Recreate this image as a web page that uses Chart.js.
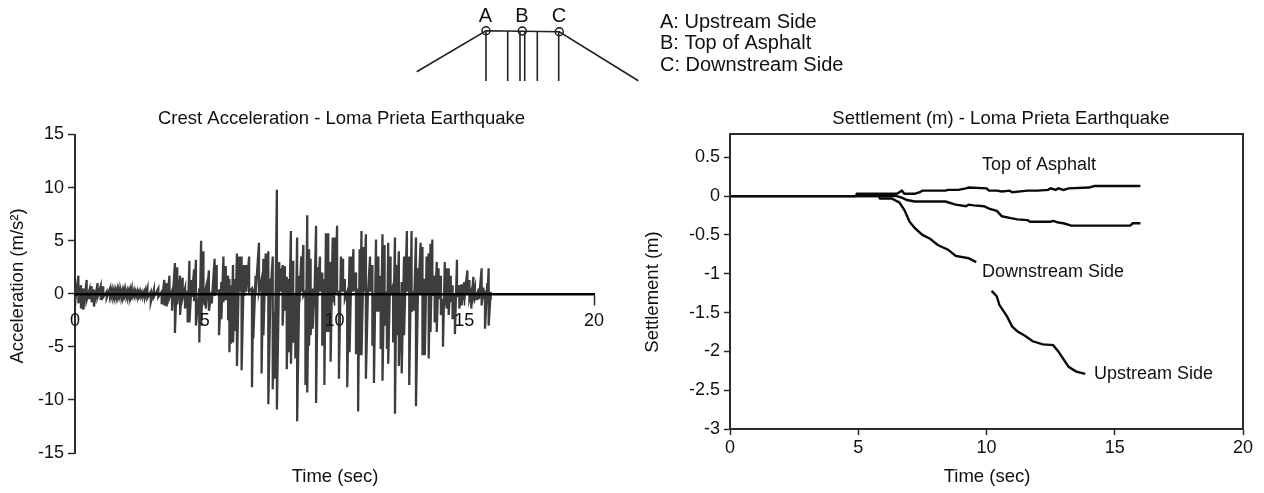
<!DOCTYPE html>
<html>
<head>
<meta charset="utf-8">
<title>Loma Prieta Earthquake</title>
<script src="https://cdn.jsdelivr.net/npm/chart.js@4/dist/chart.umd.min.js"></script>
<style>
    html, body { margin: 0; padding: 0; background: #fff; overflow: hidden; }
    canvas { position: absolute; display: block; }
    #sketchChart { left: 400px; top: 0; }
    #accelChart { left: 0; top: 100px; }
    #settleChart { left: 640px; top: 100px; }
</style>
</head>
<body>
<canvas id="sketchChart" width="480" height="100"></canvas>
<canvas id="accelChart" width="640" height="393"></canvas>
<canvas id="settleChart" width="624" height="393"></canvas>
<script>
// crest acceleration, read as high / low of each swing
const accelTimes = [0.01,0.13,0.23,0.32,0.45,0.55,0.64,0.73,0.87,0.99,1.09,1.22,
    1.35,1.41,1.48,1.54,1.61,1.67,1.73,1.80,1.86,1.92,1.99,2.05,2.12,2.18,2.25,2.31,2.38,2.44,2.50,2.56,2.63,2.70,
    2.79,2.92,3.04,3.21,3.34,3.44,3.53,3.64,3.74,3.85,3.94,4.05,4.15,4.24,4.34,4.41,4.50,4.59,4.66,4.79,
    4.86,4.95,5.04,5.16,5.27,5.38,5.46,5.55,5.64,5.72,5.81,5.90,5.95,6.01,6.09,6.17,6.24,6.33,6.42,6.51,6.60,6.71,6.82,6.87,6.96,7.09,7.19,7.26,7.35,7.45,7.54,7.62,7.69,7.78,7.87,
    7.94,8.00,8.09,8.16,8.23,8.32,8.41,8.49,8.56,8.65,8.72,8.80,8.88,8.95,9.02,9.08,9.16,9.22,9.29,9.36,9.44,9.53,9.61,9.67,9.76,9.85,9.93,10.02,10.10,10.17,10.25,10.33,10.40,10.49,10.58,10.66,10.73,10.83,10.91,10.97,
    11.04,11.13,11.21,11.29,11.37,11.46,11.52,11.60,11.69,11.78,11.85,11.93,12.02,12.07,12.16,12.26,12.33,12.39,12.48,12.59,12.68,12.79,12.88,12.97,13.06,13.14,13.23,13.32,13.39,13.48,13.55,13.63,13.70,13.77,13.86,13.94,14.01,
    14.10,14.18,14.25,14.32,14.40,14.48,14.55,14.64,14.72,14.81,14.90,15.00,15.12,15.20,15.27,15.35,15.41,15.49,15.57,15.67,15.74,15.80,15.89,15.94,16.02];
const accelHighs = [0.6,1.7,0.8,0.5,1.3,0.3,0.7,0.4,1.0,0.7,0.7,0.2,
    0.5,0.3,0.3,0.2,0.3,0.35,0.3,0.25,0.25,0.3,0.25,0.2,0.3,0.35,0.25,0.2,0.2,0.15,0.1,0.1,0.1,0.3,
    0.5,0.2,0.4,0.5,0.2,1.3,1.0,1.7,0.3,2.9,2.5,1.7,1.5,0.5,0.3,3.1,1.3,2.3,3.2,0.5,
    5.0,4.0,0.5,2.2,0.2,3.3,2.7,0.3,1.1,3.5,2.6,1.7,1.4,0.8,2.7,1.4,3.8,3.5,3.5,2.7,2.7,3.5,0.5,0.5,1.7,4.8,1.4,3.3,3.8,4.0,1.4,3.5,-1.7,9.8,3.0,
    2.4,2.7,2.6,1.6,1.4,5.9,3.1,-0.2,5.3,1.7,3.5,4.6,0.2,7.4,4.2,3.3,0.5,0.2,6.4,2.5,3.5,2.0,1.4,5.7,5.7,3.0,5.3,5.3,6.4,0.2,3.5,3.3,1.4,0.2,3.5,3.5,4.2,2.0,0.5,4.2,
    5.9,4.4,5.6,0.5,3.5,2.7,0,5.1,3.5,1.7,5.6,4.6,0.2,4.8,3.5,0.8,5.3,2.7,4.0,1.1,3.5,5.9,3.5,5.9,0.2,5.3,2.4,4.8,4.4,1.4,3.5,3.8,4.7,5.1,1.7,3.0,2.4,
    1.7,-0.5,3.0,2.4,2.4,1.7,0.8,0,3.2,0.8,0.9,1.1,2.2,1.3,0.2,1.6,0.5,0,0.5,2.4,0.6,0.3,1.0,2.4,0.2];
const accelLows = [-0.6,-0.9,-1.4,-1.5,-0.6,-0.5,-0.8,-1.2,-0.3,-0.6,-0.3,-0.4,
    -0.2,-0.25,-0.3,-0.3,-0.25,-0.2,-0.25,-0.3,-0.25,-0.2,-0.25,-0.3,-0.3,-0.25,-0.15,-0.2,-0.2,-0.3,-0.2,-0.25,-0.2,-0.3,
    -0.4,-0.8,-0.3,-0.3,-1.0,-1.1,-1.2,-0.4,-1.6,-3.7,-1.0,-2.0,-0.4,-1.4,-2.7,-2.7,-0.3,-0.7,-3.0,-4.6,
    -3.0,-0.5,-1.4,-1.6,-0.9,-0.2,0.2,-3.9,-2.4,-0.8,-0.6,-2.5,-5.5,-4.7,-4.6,-3.5,-6.8,0.2,-7.2,-0.2,0.2,0.2,-8.8,-4.2,0,0.2,-7.5,-3.9,-0.2,-10.4,0.2,-9.0,-8.0,-10.9,0.2,
    0.2,-3.0,-1.6,-7.1,-5.5,-6.6,-4.6,-6.1,-12.0,-0.8,0.2,-0.2,-8.6,-9.3,-4.9,-3.9,-3.3,-1.1,-10.3,-0.2,0.2,-4.9,-8.6,-3.6,-3.6,-6.4,-0.8,0,0.2,-8.0,0.2,0.2,-0.5,-8.8,-5.5,0.2,0.2,-5.7,-11.1,-5.8,
    -5.8,0.2,-8.0,0,0.2,-4.9,-8.4,-1.7,-1.7,-5.2,-8.2,-3.0,-5.2,-6.6,0,-4.6,-11.3,-3.9,-6.8,-7.5,-3.9,0.2,-8.6,-1.7,-1.6,-10.6,0,0,-5.8,-5.8,0,-6.1,-3.6,-0.2,-2.7,-3.6,-0.5,
    -2.0,-5.0,-1.1,-1.4,-2.0,-0.8,-2.4,-3.8,-0.3,-1.4,-1.1,-0.6,0,-0.5,-1.4,-0.2,-0.5,-0.6,-0.5,-1.1,-0.5,-3.3,-0.6,-3.0,-0.6];

// settlement curves
const asphaltTimes = [0,4.9,4.95,5.6,6.5,6.6,6.7,6.8,7.2,7.4,7.5,8.4,8.5,8.9,9.2,9.3,10.0,10.1,10.4,10.6,10.9,11.0,11.6,12.0,12.4,12.5,12.7,12.8,13.0,13.2,14.0,14.2,16.0];
const asphaltValues = [0,0,0.03,0.03,0.03,0.05,0.07,0.03,0.03,0.05,0.07,0.07,0.08,0.08,0.10,0.11,0.10,0.07,0.07,0.06,0.07,0.05,0.07,0.07,0.08,0.10,0.08,0.10,0.08,0.10,0.11,0.13,0.13];
const downstreamTimes = [0,5.8,6.5,6.7,6.9,7.2,8.4,8.8,9.2,9.3,9.5,9.9,10.1,10.4,10.6,10.9,11.2,11.6,11.7,12.5,12.6,12.8,13.0,13.3,15.6,15.7,16.0];
const downstreamValues = [0,0,0,-0.02,-0.05,-0.07,-0.07,-0.11,-0.13,-0.11,-0.12,-0.13,-0.16,-0.19,-0.26,-0.28,-0.30,-0.31,-0.33,-0.33,-0.32,-0.34,-0.35,-0.38,-0.38,-0.35,-0.35];
const upstreamTimes = [0,5.8,5.85,6.3,6.6,6.8,7.0,7.2,7.5,7.8,8.1,8.5,8.8,9.3,9.6,9.9,10.2,10.4,10.5,10.8,11.0,11.2,11.5,11.8,12.2,12.6,12.8,13.0,13.2,13.5,13.85];
const upstreamValues = [0,0,-0.03,-0.03,-0.08,-0.18,-0.33,-0.41,-0.50,-0.55,-0.63,-0.69,-0.77,-0.80,-0.85,null,-1.22,-1.29,-1.40,-1.55,-1.68,-1.74,-1.80,-1.87,-1.91,-1.92,-2.00,-2.10,-2.20,-2.26,-2.29];

const accelXTicks = [0, 5, 10, 15, 20];
const accelYTicks = [-15, -10, -5, 0, 5, 10, 15];
const settleXTicks = [0, 5, 10, 15, 20];
const settleYTicks = [-3, -2.5, -2, -1.5, -1, -0.5, 0, 0.5];

// dam section sketch
const damX = [416.7, 486, 559.3, 638.3];
const damY = [71.7, 30.7, 31.7, 80.7];
const pileX = [486, 507.7, 520, 524.7, 537.3, 558.7];
const markerX = [486, 522.3, 559.3];
const markerY = [30.7, 31, 31.7];

const FONT = '"Liberation Sans", Arial, sans-serif';
const INK = '#2b2b2b';
const TICK_SIZE = 18;

function zip(xs, ys) {
    return xs.map((x, i) => ({ x, y: ys[i] }));
}

function useTicks(list) {
    return scale => {
        scale.ticks = list.map(value => ({ value }));
    };
}

// free placed text: titles and labels sit off centre in the original
function textPlugin(items) {
    return {
        id: 'freeText',
        afterDraw(chart) {
            const { ctx } = chart;
            items.forEach(item => {
                ctx.save();
                ctx.font = `${item.size || 18.5}px ${FONT}`;
                ctx.fillStyle = '#111';
                ctx.textAlign = item.align || 'center';
                ctx.textBaseline = 'middle';
                ctx.translate(item.x, item.y);
                if (item.rotate) ctx.rotate(-Math.PI / 2);
                ctx.fillText(item.text, 0, 0);
                ctx.restore();
            });
        }
    };
}

const boxPlugin = {
    id: 'plotBox',
    afterDraw(chart) {
        const { ctx, chartArea: a } = chart;
        ctx.save();
        ctx.strokeStyle = INK;
        ctx.lineWidth = 2;
        ctx.strokeRect(a.left, a.top, a.right - a.left, a.bottom - a.top);
        ctx.restore();
    }
};

new Chart(document.getElementById('accelChart'), {
    type: 'line',
    data: {
        datasets: [{
            data: accelTimes.flatMap((t, i) => [{ x: t, y: accelHighs[i] }, { x: t, y: accelLows[i] }]),
            borderColor: '#3d3d3d',
            borderWidth: 2.3,
            pointRadius: 0,
            tension: 0
        }]
    },
    options: {
        responsive: false,
        animation: false,
        layout: { autoPadding: false, padding: { top: 34.5, right: 46, bottom: 40 } },
        plugins: { legend: { display: false }, tooltip: { enabled: false } },
        scales: {
            x: {
                type: 'linear',
                min: 0,
                max: 20,
                position: { y: 0 },
                afterBuildTicks: useTicks(accelXTicks),
                border: { color: '#000', width: 2.5, z: 1 },
                grid: { drawOnChartArea: false, tickLength: 10, color: INK, tickWidth: 1.5 },
                ticks: { color: '#111', font: { family: FONT, size: TICK_SIZE }, padding: 6, maxRotation: 0, z: 1 }
            },
            y: {
                min: -15,
                max: 15,
                afterBuildTicks: useTicks(accelYTicks),
                afterFit(scale) { scale.width = 75; },
                border: { color: INK, width: 2 },
                grid: { drawOnChartArea: false, tickLength: 7, color: INK, tickWidth: 1.5 },
                ticks: { color: '#111', font: { family: FONT, size: TICK_SIZE }, padding: 4 }
            }
        }
    },
    plugins: [textPlugin([
        { text: 'Crest Acceleration - Loma Prieta Earthquake', x: 341.5, y: 18.5 },
        { text: 'Acceleration (m/s²)', x: 18, y: 186, rotate: true },
        { text: 'Time (sec)', x: 335, y: 377 }
    ])]
});

const settleLine = { borderColor: '#0a0a0a', borderWidth: 2.4, pointRadius: 0, tension: 0 };

new Chart(document.getElementById('settleChart'), {
    type: 'line',
    data: {
        datasets: [
            { ...settleLine, label: 'Top of Asphalt', data: zip(asphaltTimes, asphaltValues) },
            { ...settleLine, label: 'Downstream Side', data: zip(downstreamTimes, downstreamValues) },
            { ...settleLine, label: 'Upstream Side', data: zip(upstreamTimes, upstreamValues) }
        ]
    },
    options: {
        responsive: false,
        animation: false,
        layout: { autoPadding: false, padding: { top: 34, right: 21 } },
        plugins: { legend: { display: false }, tooltip: { enabled: false } },
        scales: {
            x: {
                type: 'linear',
                min: 0,
                max: 20,
                afterBuildTicks: useTicks(settleXTicks),
                afterFit(scale) { scale.height = 64; },
                border: { color: INK, width: 2 },
                grid: { drawOnChartArea: false, tickLength: 6, color: INK, tickWidth: 1.5 },
                ticks: { color: '#111', font: { family: FONT, size: TICK_SIZE }, padding: 2, maxRotation: 0 }
            },
            y: {
                min: -3,
                max: 0.8,
                afterBuildTicks: useTicks(settleYTicks),
                afterFit(scale) { scale.width = 90; },
                border: { color: INK, width: 2 },
                grid: { drawOnChartArea: false, tickLength: 6, color: INK, tickWidth: 1.5 },
                ticks: {
                    color: '#111',
                    font: { family: FONT, size: TICK_SIZE },
                    padding: 4,
                    callback: value => String(value)
                }
            }
        }
    },
    plugins: [boxPlugin, textPlugin([
        { text: 'Settlement (m) - Loma Prieta Earthquake', x: 361, y: 19 },
        { text: 'Settlement (m)', x: 13, y: 192, rotate: true },
        { text: 'Time (sec)', x: 347, y: 377 },
        { text: 'Top of Asphalt', x: 342, y: 65, align: 'left', size: 18 },
        { text: 'Downstream Side', x: 342, y: 172, align: 'left', size: 18 },
        { text: 'Upstream Side', x: 454, y: 274, align: 'left', size: 18 }
    ])]
});

const sketchStroke = { borderColor: '#222', borderWidth: 1.6, pointRadius: 0, tension: 0 };

new Chart(document.getElementById('sketchChart'), {
    type: 'line',
    data: {
        datasets: [
            { ...sketchStroke, data: zip(damX, damY) },
            { ...sketchStroke, data: pileX.flatMap(x => [{ x, y: 31 }, { x, y: 81 }, { x, y: null }]) },
            {
                data: zip(markerX, markerY),
                showLine: false,
                pointRadius: 4,
                pointBackgroundColor: 'rgba(0,0,0,0)',
                pointBorderColor: '#111',
                pointBorderWidth: 1.4
            }
        ]
    },
    options: {
        responsive: false,
        animation: false,
        layout: { autoPadding: false },
        plugins: { legend: { display: false }, tooltip: { enabled: false } },
        scales: {
            x: { type: 'linear', min: 400, max: 880, display: false },
            y: { min: 0, max: 100, reverse: true, display: false }
        }
    },
    plugins: [textPlugin([
        { text: 'A', x: 85.5, y: 16, size: 20 },
        { text: 'B', x: 122, y: 16, size: 20 },
        { text: 'C', x: 159, y: 16, size: 20 },
        { text: 'A: Upstream Side', x: 260, y: 22, align: 'left', size: 20 },
        { text: 'B: Top of Asphalt', x: 260, y: 43, align: 'left', size: 20 },
        { text: 'C: Downstream Side', x: 260, y: 65, align: 'left', size: 20 }
    ])]
});
</script>
</body>
</html>
